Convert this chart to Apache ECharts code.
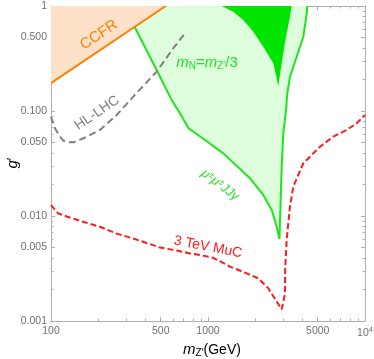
<!DOCTYPE html>
<html><head><meta charset="utf-8">
<script src="https://cdn.jsdelivr.net/npm/echarts@6/dist/echarts.min.js"></script>
<style>html,body{margin:0;padding:0;background:#fff}#c{width:374px;height:359px}</style>
</head><body><div id="c"></div>
<script>
// ---- tick values / labels ----
const xTickValues = [100, 500, 1000, 5000, 10000];
const xTickLabels = ['100', '500', '1000', '5000', '10{s|4}'];
const xMinorTicks = [200, 300, 400, 600, 700, 800, 900, 2000, 3000, 4000, 6000, 7000, 8000, 9000];
const yTickValues = [0.001, 0.005, 0.01, 0.05, 0.1, 0.5, 1];
const yTickLabels = ['0.001', '0.005', '0.010', '0.050', '0.100', '0.500', '1'];
const yMinorTicks = [0.002, 0.003, 0.004, 0.006, 0.007, 0.008, 0.009, 0.02, 0.03, 0.04, 0.06, 0.07, 0.08, 0.09, 0.2, 0.3, 0.4, 0.6, 0.7, 0.8, 0.9];

// ---- CCFR excluded region (edge) ----
const ccfrMass = [100, 538];
const ccfrG = [0.184, 1];

// ---- mu mu J J gamma region (light green), boundary going clockwise ----
const mmjjMass = [341, 538, 4292, 4256, 4046, 3672, 3327, 3201, 3141, 3019, 2946, 2904, 2853, 2740, 2546, 2249, 1851, 1250, 957, 750, 663, 587, 471, 341];
const mmjjG    = [0.63, 1, 1, 0.852, 0.510, 0.329, 0.212, 0.1475, 0.102, 0.0613, 0.0295, 0.0142, 0.00604, 0.0079, 0.0114, 0.01585, 0.02286, 0.0395, 0.053, 0.0685, 0.0951, 0.127, 0.246, 0.63];

// ---- green boundary line (left side down to tip, right side up) ----
const mmjjLineMass = [341, 471, 587, 663, 750, 957, 1250, 1851, 2249, 2546, 2740, 2853, 2904, 2946, 3019, 3141, 3201, 3327, 3672, 4046, 4256, 4292];
const mmjjLineG    = [0.63, 0.246, 0.127, 0.0951, 0.0685, 0.053, 0.0395, 0.02286, 0.01585, 0.0114, 0.0079, 0.00604, 0.0142, 0.0295, 0.0613, 0.102, 0.1475, 0.212, 0.329, 0.510, 0.852, 1];

// ---- m_N = m_Z'/3 region (dark green) ----
const mnMass = [1222, 1449, 1678, 1944, 2249, 2606, 2804, 2946, 3141, 3327, 3411];
const mnG    = [1, 0.882, 0.736, 0.569, 0.410, 0.285, 0.173, 0.285, 0.510, 0.791, 1];

// ---- HL-LHC projection ----
const hlMass = [100, 106, 114, 120, 129, 139, 161, 205, 262, 334, 471, 601, 714];
const hlG    = [0.0883, 0.0684, 0.0569, 0.0521, 0.0503, 0.0503, 0.055, 0.066, 0.0916, 0.137, 0.237, 0.396, 0.55];

// ---- 3 TeV MuC ----
const mucMass = [100, 111, 126, 160, 205, 262, 334, 427, 495, 632, 767, 889, 1080, 1380, 1765, 2090, 2420, 2740, 2946, 3030, 3090, 3100, 3170, 3327, 3493, 4046, 5168, 6281, 7641, 8846, 10000];
const mucG    = [0.0127, 0.0106, 0.0099, 0.0088, 0.0079, 0.0068, 0.0061, 0.0054, 0.0050, 0.0047, 0.0044, 0.00425, 0.0040, 0.0033, 0.00284, 0.00255, 0.00205, 0.00153, 0.00129, 0.00133, 0.0018, 0.0031, 0.0059, 0.0123, 0.0190, 0.0318, 0.0457, 0.0569, 0.066, 0.0763, 0.0916];

const lg = Math.log10;
const pairs = (ms, gs) => ms.map((m, i) => [lg(m), lg(gs[i])]);

const AX = '#b0b0b0', LBL = '#707070';
const FONT = '"Liberation Sans", Arial, sans-serif';
const GREEN = '#1ee61e', DARKG = '#00e400', LIGHTG = '#ddfddd';
const ORANGE = '#ff8000', PEACH = '#fde2c9', RED = '#ff1a1a', GRAY = '#808080';

function findIdx(vals, v) { return vals.findIndex(t => Math.abs(lg(t) - v) < 1e-6); }

function xAxis(pos, ticks, len, line, label) {
  return {
    type: 'value', position: pos, min: 2, max: 4,
    axisLine: { show: line, onZero: false, lineStyle: { color: AX, width: 1 } },
    axisTick: { show: true, inside: true, length: len, customValues: ticks.map(lg), lineStyle: { color: AX } },
    axisLabel: label ? {
      show: true, customValues: xTickValues.map(lg), color: LBL, fontSize: 10.5, fontFamily: FONT, margin: 5,
      formatter: v => xTickLabels[findIdx(xTickValues, v)] || '',
      rich: { s: { fontSize: 7.5, fontFamily: FONT, color: LBL, verticalAlign: 'top', padding: [0, 0, 6, 0] } }
    } : { show: false },
    splitLine: { show: false }
  };
}
function yAxis(pos, ticks, len, line, label) {
  return {
    type: 'value', position: pos, min: -3, max: 0,
    axisLine: { show: line, onZero: false, lineStyle: { color: AX, width: 1 } },
    axisTick: { show: true, inside: true, length: len, customValues: ticks.map(lg), lineStyle: { color: AX } },
    axisLabel: label ? {
      show: true, customValues: yTickValues.map(lg), color: LBL, fontSize: 10.5, fontFamily: FONT, margin: 4,
      formatter: v => yTickLabels[findIdx(yTickValues, v)] || ''
    } : { show: false },
    splitLine: { show: false }
  };
}

function polygon(ms, gs, color, z) {
  const data = pairs(ms, gs);
  return {
    type: 'custom', xAxisIndex: 0, yAxisIndex: 0, z: z, silent: true,
    data: data,
    renderItem: (params, api) => {
      if (params.dataIndex !== 0) return null;
      return { type: 'polygon', shape: { points: data.map(p => api.coord(p)) }, style: { fill: color } };
    }
  };
}

const chart = echarts.init(document.getElementById('c'), null, { renderer: 'canvas' });
chart.setOption({
  animation: false,
  backgroundColor: '#fff',
  grid: { left: 51, right: 9, top: 6, bottom: 38, containLabel: false, outerBoundsMode: 'none' },
  xAxis: [
    xAxis('bottom', xTickValues, 4, true, true),
    xAxis('bottom', xMinorTicks, 2.5, false, false),
    xAxis('top', xTickValues, 4, true, false),
    xAxis('top', xMinorTicks, 2.5, false, false)
  ],
  yAxis: [
    yAxis('left', yTickValues, 4, true, true),
    yAxis('left', yMinorTicks, 2.5, false, false),
    yAxis('right', yTickValues, 4, true, false),
    yAxis('right', yMinorTicks, 2.5, false, false)
  ],
  series: [
    polygon(mmjjMass, mmjjG, LIGHTG, 1),
    polygon(mnMass, mnG, DARKG, 2),
    {
      type: 'line', z: 3, data: pairs(ccfrMass, ccfrG), showSymbol: false, silent: true,
      lineStyle: { color: ORANGE, width: 2 },
      areaStyle: { color: PEACH, opacity: 1, origin: 'end' }
    },
    {
      type: 'line', z: 4, data: pairs(mmjjLineMass, mmjjLineG), showSymbol: false, silent: true,
      lineStyle: { color: GREEN, width: 2 }
    },
    {
      type: 'line', z: 5, data: pairs(hlMass, hlG), showSymbol: false, silent: true, smooth: false,
      lineStyle: { color: GRAY, width: 2, type: [7, 4] }
    },
    {
      type: 'line', z: 5, data: pairs(mucMass, mucG), showSymbol: false, silent: true,
      lineStyle: { color: RED, width: 2, type: [6, 3] }
    }
  ],
  graphic: [
    { type: 'text', x: 99, y: 35, rotation: 34 * Math.PI / 180, z: 100,
      style: { text: 'CCFR', fill: ORANGE, fontSize: 15, fontFamily: FONT, align: 'center', verticalAlign: 'middle' } },
    { type: 'text', x: 97, y: 113, rotation: 34 * Math.PI / 180, z: 100,
      style: { text: 'HL-LHC', fill: GRAY, fontSize: 14, fontFamily: FONT, align: 'center', verticalAlign: 'middle' } },
    { type: 'text', x: 207, y: 63, z: 100,
      style: { text: '{i|m}{s|N}{t|=}{i|m}{s|Z\u2032}{t|/3}', fill: GREEN, fontSize: 15, fontFamily: FONT, align: 'center', verticalAlign: 'middle',
        rich: { i: { fontStyle: 'italic', fontSize: 15, fontFamily: FONT, fill: GREEN, color: GREEN },
                t: { fontSize: 15, fontFamily: FONT, fill: GREEN, color: GREEN },
                s: { fontSize: 10, fontFamily: FONT, fill: GREEN, color: GREEN, verticalAlign: 'bottom', padding: [6, 0, 0, 0] } } } },
    { type: 'text', x: 220, y: 185, rotation: -37 * Math.PI / 180, z: 100,
      style: { text: '{t|\u03bc}{p|\u00b1}{t|\u03bc}{p|\u00b1}{t|JJ\u03b3}', fill: GREEN, fontSize: 13, fontFamily: FONT, align: 'center', verticalAlign: 'middle',
        rich: { t: { fontSize: 13, fontFamily: FONT, fill: GREEN, color: GREEN, fontStyle: 'italic' },
                p: { fontSize: 9, fontFamily: FONT, fill: GREEN, color: GREEN, verticalAlign: 'top', padding: [0, 0, 6, 0] } } } },
    { type: 'text', x: 208, y: 247, rotation: -11 * Math.PI / 180, z: 100,
      style: { text: '3 TeV MuC', fill: RED, fontSize: 14, fontFamily: FONT, align: 'center', verticalAlign: 'middle' } },
    { type: 'text', x: 13, y: 163, rotation: Math.PI / 2, z: 100,
      style: { text: '{i|g}\u2032', fill: '#000', fontSize: 14, fontFamily: FONT, align: 'center', verticalAlign: 'middle',
        rich: { i: { fontStyle: 'italic', fontSize: 15, fontFamily: FONT, fill: '#000', color: '#000' } } } },
    { type: 'text', x: 212, y: 350, z: 100,
      style: { text: '{i|m}{s|Z\u2032}{t|(GeV)}', fill: '#000', fontSize: 14, fontFamily: FONT, align: 'center', verticalAlign: 'middle',
        rich: { i: { fontStyle: 'italic', fontSize: 15, fontFamily: FONT, fill: '#000', color: '#000' },
                t: { fontSize: 14, fontFamily: FONT, fill: '#000', color: '#000' },
                s: { fontSize: 10, fontFamily: FONT, fill: '#000', color: '#000', verticalAlign: 'bottom', padding: [6, 0, 0, 0] } } } }
  ]
});
</script>
</body></html>
